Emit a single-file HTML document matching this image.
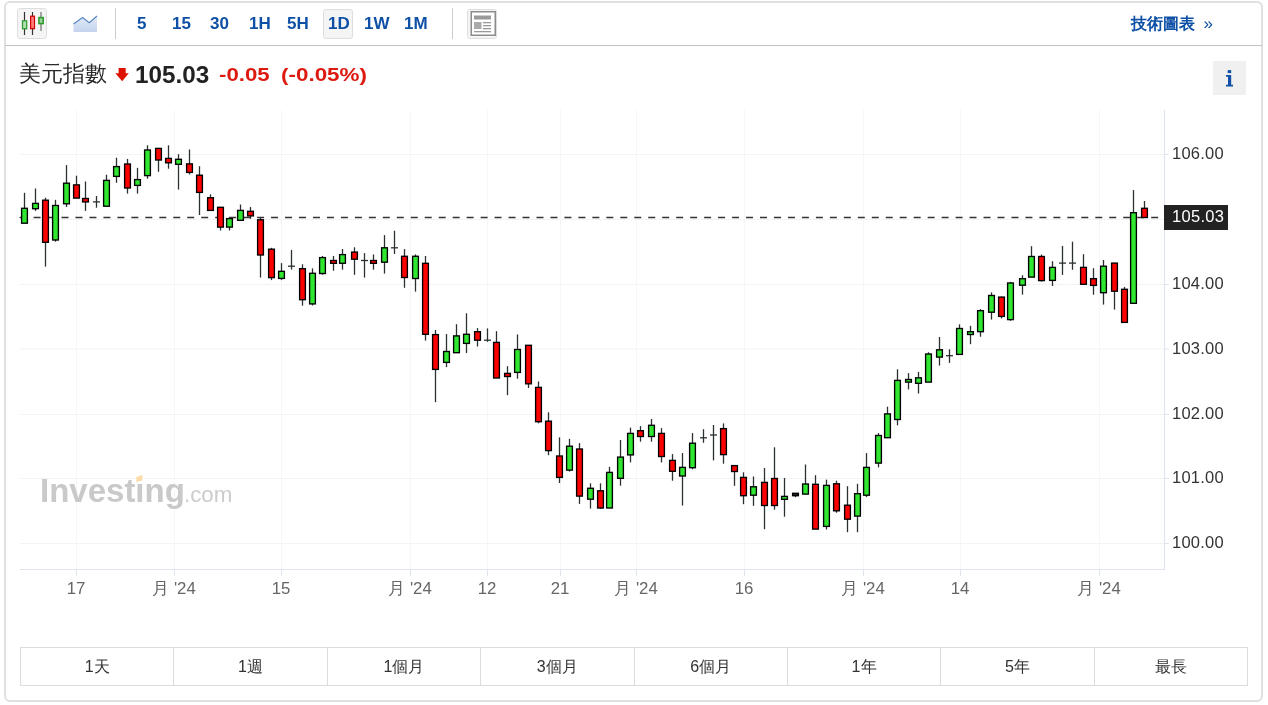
<!DOCTYPE html>
<html><head><meta charset="utf-8">
<style>
html,body{margin:0;padding:0;background:#fff;width:1268px;height:705px;overflow:hidden;}
body{position:relative;font-family:"Liberation Sans",sans-serif;}
.aa{will-change:transform;}
.card{position:absolute;left:4px;top:1px;width:1259px;height:701px;box-sizing:border-box;border:2px solid #e0e0e0;border-radius:6px;}
.tbline{position:absolute;left:5px;top:44.5px;width:1257px;height:1.5px;background:#c2c2c2;}
.btn{position:absolute;box-sizing:border-box;border:1.5px solid #dedede;background:#f5f5f5;border-radius:3px;}
.sep{position:absolute;top:8px;width:1.5px;height:31px;background:#cccccc;}
.tf{position:absolute;top:14px;height:20px;line-height:20px;font-size:17px;font-weight:bold;color:#0d50a6;white-space:nowrap;}
.chart{position:absolute;left:0;top:0;}
.ylab{position:absolute;left:1172px;height:19px;line-height:19px;font-size:16.5px;letter-spacing:0.25px;color:#333;white-space:nowrap;}
.xlab{position:absolute;top:579px;width:80px;text-align:center;height:19px;line-height:19px;font-size:16.8px;color:#666;white-space:nowrap;}
.ranges{position:absolute;left:20px;top:647px;width:1228px;height:39px;box-sizing:border-box;border:1.5px solid #dcdcdc;display:flex;}
.rc{flex:1;border-left:1.5px solid #dcdcdc;text-align:center;line-height:37.5px;font-size:16px;color:#333;}
.rc:first-child{border-left:none;}
</style></head><body>
<div class="aa" style="position:absolute;left:0;top:0;width:1268px;height:705px;">
<div class="card"></div>
<div class="tbline"></div>
<div class="btn" style="left:17px;top:8px;width:30px;height:31px;"></div>
<svg style="position:absolute;left:0;top:0" width="120" height="45">
 <line x1="24.5" y1="12" x2="24.5" y2="35" stroke="#333" stroke-width="1.2"/>
 <rect x="22.5" y="20.8" width="4.2" height="8" fill="#b0deb0" stroke="#2a9a2a" stroke-width="1.2"/>
 <line x1="32.5" y1="12" x2="32.5" y2="35" stroke="#333" stroke-width="1.2"/>
 <rect x="30.6" y="16.2" width="3.9" height="12.5" fill="#ff7f7f" stroke="#cc0000" stroke-width="1.2"/>
 <line x1="41" y1="12" x2="41" y2="31" stroke="#777" stroke-width="1.3"/>
 <rect x="38.9" y="17.6" width="4.3" height="6" fill="#9ad49a" stroke="#2a9a2a" stroke-width="1.5"/>
 <defs><linearGradient id="ag" x1="0" y1="0" x2="0" y2="1"><stop offset="0" stop-color="#e3ebf8"/><stop offset="1" stop-color="#c4d3ec"/></linearGradient></defs>
 <path d="M73.5 24 L82.6 17.5 L89.2 22.7 L97 16 L97 32 L73.5 32 Z" fill="url(#ag)"/>
 <path d="M73.5 24 L82.6 17.5 L89.2 22.7 L97 16" fill="none" stroke="#5b86c4" stroke-width="1.2"/>
</svg>
<div class="sep" style="left:114.5px"></div>
<div class="tf" style="left:137px">5</div>
<div class="tf" style="left:172px">15</div>
<div class="tf" style="left:210px">30</div>
<div class="tf" style="left:249px">1H</div>
<div class="tf" style="left:287px">5H</div>
<div class="btn" style="left:323px;top:9px;width:30px;height:30px;"></div>
<div class="tf" style="left:328px">1D</div>
<div class="tf" style="left:364px">1W</div>
<div class="tf" style="left:404px">1M</div>
<div class="sep" style="left:451.5px"></div>
<div class="btn" style="left:467px;top:9px;width:30px;height:30px;"></div>
<svg style="position:absolute;left:467px;top:9px" width="30" height="30">
 <rect x="4.25" y="2.75" width="24" height="23.5" fill="#fff" stroke="#8c8c8c" stroke-width="1.5"/>
 <rect x="7" y="6.5" width="17" height="4" fill="#999"/>
 <rect x="7" y="13" width="7.5" height="7" fill="#aaa"/>
 <rect x="16" y="13" width="8" height="1.3" fill="#999"/>
 <rect x="16" y="16" width="8" height="1.3" fill="#999"/>
 <rect x="16" y="19" width="8" height="1.3" fill="#999"/>
 <rect x="7" y="22" width="17" height="1.3" fill="#999"/>
</svg>
<div style="position:absolute;left:1130.5px;top:13px;height:22px;line-height:22px;font-size:16px;font-weight:bold;color:#0d50a6;white-space:nowrap;">技術圖表</div>
<div style="position:absolute;left:1203.5px;top:12.5px;height:22px;line-height:22px;font-size:17px;color:#0d50a6;white-space:nowrap;">»</div>

<div style="position:absolute;left:19px;top:60px;height:28px;line-height:28px;font-size:22px;color:#2a2a2a;white-space:nowrap;">美元指數</div>
<svg style="position:absolute;left:110px;top:62px" width="25" height="25"><path d="M8.6 6 H15.7 V11.3 H18.8 L12.15 19.3 L5.4 11.3 H8.6 Z" fill="#dd1100"/></svg>
<div style="position:absolute;left:135px;top:61px;height:28px;line-height:28px;font-size:23.2px;font-weight:bold;color:#222;white-space:nowrap;transform:scaleX(1.046);transform-origin:0 0;">105.03</div>
<div style="position:absolute;left:219px;top:61px;height:28px;line-height:28px;font-size:19px;font-weight:bold;color:#dd1a10;white-space:nowrap;transform:scaleX(1.17);transform-origin:0 0;">-0.05</div>
<div style="position:absolute;left:281px;top:61px;height:28px;line-height:28px;font-size:19px;font-weight:bold;color:#dd1a10;white-space:nowrap;transform:scaleX(1.18);transform-origin:0 0;">(-0.05%)</div>
<div style="position:absolute;left:1213px;top:61px;width:33px;height:34px;background:#f0f0f0;"></div>
<svg style="position:absolute;left:1213px;top:61px" width="33" height="34"><g transform="translate(-1213,-61)" fill="#0f4fa6"><rect x="1227.7" y="70.1" width="3.5" height="3"/><path d="M1226 74.9 H1231.2 V84.7 H1233 V86.4 H1226 V84.7 H1228 V76.8 H1226 Z"/></g></svg>

<svg class="chart" width="1268" height="705" viewBox="0 0 1268 705">
<line x1="20" y1="154.5" x2="1164" y2="154.5" stroke="#f3f3f3" stroke-width="1"/>
<line x1="1164" y1="154.5" x2="1169" y2="154.5" stroke="#dfe4ee" stroke-width="1"/>
<line x1="20" y1="219.5" x2="1164" y2="219.5" stroke="#f3f3f3" stroke-width="1"/>
<line x1="1164" y1="219.5" x2="1169" y2="219.5" stroke="#dfe4ee" stroke-width="1"/>
<line x1="20" y1="284.5" x2="1164" y2="284.5" stroke="#f3f3f3" stroke-width="1"/>
<line x1="1164" y1="284.5" x2="1169" y2="284.5" stroke="#dfe4ee" stroke-width="1"/>
<line x1="20" y1="349" x2="1164" y2="349" stroke="#f3f3f3" stroke-width="1"/>
<line x1="1164" y1="349" x2="1169" y2="349" stroke="#dfe4ee" stroke-width="1"/>
<line x1="20" y1="414.5" x2="1164" y2="414.5" stroke="#f3f3f3" stroke-width="1"/>
<line x1="1164" y1="414.5" x2="1169" y2="414.5" stroke="#dfe4ee" stroke-width="1"/>
<line x1="20" y1="478.5" x2="1164" y2="478.5" stroke="#f3f3f3" stroke-width="1"/>
<line x1="1164" y1="478.5" x2="1169" y2="478.5" stroke="#dfe4ee" stroke-width="1"/>
<line x1="20" y1="543.5" x2="1164" y2="543.5" stroke="#f3f3f3" stroke-width="1"/>
<line x1="1164" y1="543.5" x2="1169" y2="543.5" stroke="#dfe4ee" stroke-width="1"/>
<line x1="76.5" y1="110" x2="76.5" y2="569" stroke="#f6f6f6" stroke-width="1"/>
<line x1="76.5" y1="569" x2="76.5" y2="576" stroke="#dfe4ee" stroke-width="1"/>
<line x1="174.5" y1="110" x2="174.5" y2="569" stroke="#f6f6f6" stroke-width="1"/>
<line x1="174.5" y1="569" x2="174.5" y2="576" stroke="#dfe4ee" stroke-width="1"/>
<line x1="281.5" y1="110" x2="281.5" y2="569" stroke="#f6f6f6" stroke-width="1"/>
<line x1="281.5" y1="569" x2="281.5" y2="576" stroke="#dfe4ee" stroke-width="1"/>
<line x1="410.5" y1="110" x2="410.5" y2="569" stroke="#f6f6f6" stroke-width="1"/>
<line x1="410.5" y1="569" x2="410.5" y2="576" stroke="#dfe4ee" stroke-width="1"/>
<line x1="487.5" y1="110" x2="487.5" y2="569" stroke="#f6f6f6" stroke-width="1"/>
<line x1="487.5" y1="569" x2="487.5" y2="576" stroke="#dfe4ee" stroke-width="1"/>
<line x1="560.5" y1="110" x2="560.5" y2="569" stroke="#f6f6f6" stroke-width="1"/>
<line x1="560.5" y1="569" x2="560.5" y2="576" stroke="#dfe4ee" stroke-width="1"/>
<line x1="636.5" y1="110" x2="636.5" y2="569" stroke="#f6f6f6" stroke-width="1"/>
<line x1="636.5" y1="569" x2="636.5" y2="576" stroke="#dfe4ee" stroke-width="1"/>
<line x1="744.5" y1="110" x2="744.5" y2="569" stroke="#f6f6f6" stroke-width="1"/>
<line x1="744.5" y1="569" x2="744.5" y2="576" stroke="#dfe4ee" stroke-width="1"/>
<line x1="863.5" y1="110" x2="863.5" y2="569" stroke="#f6f6f6" stroke-width="1"/>
<line x1="863.5" y1="569" x2="863.5" y2="576" stroke="#dfe4ee" stroke-width="1"/>
<line x1="960.5" y1="110" x2="960.5" y2="569" stroke="#f6f6f6" stroke-width="1"/>
<line x1="960.5" y1="569" x2="960.5" y2="576" stroke="#dfe4ee" stroke-width="1"/>
<line x1="1099.5" y1="110" x2="1099.5" y2="569" stroke="#f6f6f6" stroke-width="1"/>
<line x1="1099.5" y1="569" x2="1099.5" y2="576" stroke="#dfe4ee" stroke-width="1"/>
<line x1="20" y1="569.5" x2="1165" y2="569.5" stroke="#dfe4ee" stroke-width="1.2"/>
<line x1="1164.5" y1="110" x2="1164.5" y2="570" stroke="#dfe4ee" stroke-width="1.2"/>
<text x="40" y="502" font-family="Liberation Sans" font-weight="bold" font-size="33" fill="#c9c9c9">Investing</text>
<rect x="135.5" y="476" width="8" height="6" fill="#fff"/>
<polygon points="136.3,477 142.4,474.8 142.4,480.6 136.3,482" fill="#fddcaa"/>
<text x="184" y="502" font-family="Liberation Sans" font-size="22.3" fill="#cccccc">.com</text>
<line x1="19.6" y1="217.5" x2="1159" y2="217.5" stroke="#333" stroke-width="1.5" stroke-dasharray="6.985,6.985"/>
<line x1="24.5" y1="192.8" x2="24.5" y2="223.2" stroke="#2b3033" stroke-width="1.3"/>
<rect x="21.6" y="208.3" width="5.8" height="14.9" fill="#30e630" stroke="#000" stroke-width="1.35"/>
<line x1="35.5" y1="188.5" x2="35.5" y2="210.9" stroke="#2b3033" stroke-width="1.3"/>
<rect x="32.6" y="203.4" width="5.8" height="5.3" fill="#30e630" stroke="#000" stroke-width="1.35"/>
<line x1="45.5" y1="197.7" x2="45.5" y2="266.6" stroke="#2b3033" stroke-width="1.3"/>
<rect x="42.6" y="200.2" width="5.8" height="42.1" fill="#ff0000" stroke="#000" stroke-width="1.35"/>
<line x1="55.5" y1="199.8" x2="55.5" y2="241.7" stroke="#2b3033" stroke-width="1.3"/>
<rect x="52.6" y="205.5" width="5.8" height="34.5" fill="#30e630" stroke="#000" stroke-width="1.35"/>
<line x1="66.5" y1="165.1" x2="66.5" y2="207.0" stroke="#2b3033" stroke-width="1.3"/>
<rect x="63.6" y="183.2" width="5.8" height="20.6" fill="#30e630" stroke="#000" stroke-width="1.35"/>
<line x1="76.5" y1="175.7" x2="76.5" y2="198.1" stroke="#2b3033" stroke-width="1.3"/>
<rect x="73.6" y="184.9" width="5.8" height="13.2" fill="#ff0000" stroke="#000" stroke-width="1.35"/>
<line x1="85.5" y1="181.5" x2="85.5" y2="210.9" stroke="#2b3033" stroke-width="1.3"/>
<rect x="82.6" y="198.5" width="5.8" height="3.4" fill="#ff0000" stroke="#000" stroke-width="1.35"/>
<line x1="96.5" y1="196.0" x2="96.5" y2="207.7" stroke="#2b3033" stroke-width="1.3"/>
<line x1="93.0" y1="201.9" x2="100.0" y2="201.9" stroke="#2b3033" stroke-width="1.3"/>
<line x1="106.5" y1="174.7" x2="106.5" y2="206.2" stroke="#2b3033" stroke-width="1.3"/>
<rect x="103.6" y="180.4" width="5.8" height="25.8" fill="#30e630" stroke="#000" stroke-width="1.35"/>
<line x1="116.5" y1="157.7" x2="116.5" y2="182.8" stroke="#2b3033" stroke-width="1.3"/>
<rect x="113.6" y="166.6" width="5.8" height="9.8" fill="#30e630" stroke="#000" stroke-width="1.35"/>
<line x1="127.5" y1="158.9" x2="127.5" y2="193.6" stroke="#2b3033" stroke-width="1.3"/>
<rect x="124.6" y="164.0" width="5.8" height="24.0" fill="#ff0000" stroke="#000" stroke-width="1.35"/>
<line x1="137.5" y1="167.8" x2="137.5" y2="193.6" stroke="#2b3033" stroke-width="1.3"/>
<rect x="134.6" y="179.6" width="5.8" height="5.8" fill="#30e630" stroke="#000" stroke-width="1.35"/>
<line x1="147.5" y1="145.3" x2="147.5" y2="178.7" stroke="#2b3033" stroke-width="1.3"/>
<rect x="144.6" y="150.0" width="5.8" height="25.6" fill="#30e630" stroke="#000" stroke-width="1.35"/>
<line x1="158.5" y1="148.4" x2="158.5" y2="171.8" stroke="#2b3033" stroke-width="1.3"/>
<rect x="155.6" y="148.4" width="5.8" height="11.6" fill="#ff0000" stroke="#000" stroke-width="1.35"/>
<line x1="168.5" y1="145.3" x2="168.5" y2="168.7" stroke="#2b3033" stroke-width="1.3"/>
<rect x="165.6" y="158.4" width="5.8" height="4.4" fill="#ff0000" stroke="#000" stroke-width="1.35"/>
<line x1="178.5" y1="154.2" x2="178.5" y2="189.6" stroke="#2b3033" stroke-width="1.3"/>
<rect x="175.6" y="159.3" width="5.8" height="5.0" fill="#30e630" stroke="#000" stroke-width="1.35"/>
<line x1="189.5" y1="149.5" x2="189.5" y2="174.5" stroke="#2b3033" stroke-width="1.3"/>
<rect x="186.6" y="163.9" width="5.8" height="8.5" fill="#ff0000" stroke="#000" stroke-width="1.35"/>
<line x1="199.5" y1="166.2" x2="199.5" y2="215.0" stroke="#2b3033" stroke-width="1.3"/>
<rect x="196.6" y="175.2" width="5.8" height="17.2" fill="#ff0000" stroke="#000" stroke-width="1.35"/>
<line x1="210.5" y1="194.3" x2="210.5" y2="210.4" stroke="#2b3033" stroke-width="1.3"/>
<rect x="207.6" y="197.7" width="5.8" height="12.7" fill="#ff0000" stroke="#000" stroke-width="1.35"/>
<line x1="220.5" y1="207.3" x2="220.5" y2="230.5" stroke="#2b3033" stroke-width="1.3"/>
<rect x="217.6" y="207.3" width="5.8" height="19.8" fill="#ff0000" stroke="#000" stroke-width="1.35"/>
<line x1="229.5" y1="217.2" x2="229.5" y2="230.5" stroke="#2b3033" stroke-width="1.3"/>
<rect x="226.6" y="218.6" width="5.8" height="8.5" fill="#30e630" stroke="#000" stroke-width="1.35"/>
<line x1="240.5" y1="204.5" x2="240.5" y2="220.3" stroke="#2b3033" stroke-width="1.3"/>
<rect x="237.6" y="210.4" width="5.8" height="9.9" fill="#30e630" stroke="#000" stroke-width="1.35"/>
<line x1="250.5" y1="207.0" x2="250.5" y2="218.9" stroke="#2b3033" stroke-width="1.3"/>
<rect x="247.6" y="211.3" width="5.8" height="4.6" fill="#ff0000" stroke="#000" stroke-width="1.35"/>
<line x1="260.5" y1="217.6" x2="260.5" y2="277.6" stroke="#2b3033" stroke-width="1.3"/>
<rect x="257.6" y="219.8" width="5.8" height="35.2" fill="#ff0000" stroke="#000" stroke-width="1.35"/>
<line x1="271.5" y1="247.8" x2="271.5" y2="280.1" stroke="#2b3033" stroke-width="1.3"/>
<rect x="268.6" y="249.2" width="5.8" height="28.4" fill="#ff0000" stroke="#000" stroke-width="1.35"/>
<line x1="281.5" y1="263.1" x2="281.5" y2="280.1" stroke="#2b3033" stroke-width="1.3"/>
<rect x="278.6" y="271.3" width="5.8" height="7.1" fill="#30e630" stroke="#000" stroke-width="1.35"/>
<line x1="291.5" y1="249.9" x2="291.5" y2="269.6" stroke="#2b3033" stroke-width="1.3"/>
<line x1="288.0" y1="266.2" x2="295.0" y2="266.2" stroke="#2b3033" stroke-width="1.3"/>
<line x1="302.5" y1="264.3" x2="302.5" y2="305.7" stroke="#2b3033" stroke-width="1.3"/>
<rect x="299.6" y="268.7" width="5.8" height="31.0" fill="#ff0000" stroke="#000" stroke-width="1.35"/>
<line x1="312.5" y1="268.4" x2="312.5" y2="305.5" stroke="#2b3033" stroke-width="1.3"/>
<rect x="309.6" y="273.3" width="5.8" height="30.6" fill="#30e630" stroke="#000" stroke-width="1.35"/>
<line x1="322.5" y1="255.9" x2="322.5" y2="274.8" stroke="#2b3033" stroke-width="1.3"/>
<rect x="319.6" y="257.6" width="5.8" height="15.9" fill="#30e630" stroke="#000" stroke-width="1.35"/>
<line x1="333.5" y1="255.9" x2="333.5" y2="270.7" stroke="#2b3033" stroke-width="1.3"/>
<rect x="330.6" y="260.5" width="5.8" height="2.8" fill="#ff0000" stroke="#000" stroke-width="1.35"/>
<line x1="342.5" y1="249.0" x2="342.5" y2="269.7" stroke="#2b3033" stroke-width="1.3"/>
<rect x="339.6" y="254.6" width="5.8" height="8.7" fill="#30e630" stroke="#000" stroke-width="1.35"/>
<line x1="354.5" y1="247.3" x2="354.5" y2="274.8" stroke="#2b3033" stroke-width="1.3"/>
<rect x="351.6" y="252.1" width="5.8" height="7.1" fill="#ff0000" stroke="#000" stroke-width="1.35"/>
<line x1="364.5" y1="253.1" x2="364.5" y2="277.6" stroke="#2b3033" stroke-width="1.3"/>
<line x1="361.0" y1="260.5" x2="368.0" y2="260.5" stroke="#2b3033" stroke-width="1.3"/>
<line x1="373.5" y1="254.4" x2="373.5" y2="269.7" stroke="#2b3033" stroke-width="1.3"/>
<rect x="370.6" y="260.5" width="5.8" height="2.8" fill="#ff0000" stroke="#000" stroke-width="1.35"/>
<line x1="384.5" y1="235.1" x2="384.5" y2="273.6" stroke="#2b3033" stroke-width="1.3"/>
<rect x="381.6" y="247.8" width="5.8" height="14.4" fill="#30e630" stroke="#000" stroke-width="1.35"/>
<line x1="394.5" y1="230.7" x2="394.5" y2="254.0" stroke="#2b3033" stroke-width="1.3"/>
<line x1="391.0" y1="247.8" x2="398.0" y2="247.8" stroke="#2b3033" stroke-width="1.3"/>
<line x1="404.5" y1="249.1" x2="404.5" y2="287.8" stroke="#2b3033" stroke-width="1.3"/>
<rect x="401.6" y="256.3" width="5.8" height="21.2" fill="#ff0000" stroke="#000" stroke-width="1.35"/>
<line x1="415.5" y1="254.4" x2="415.5" y2="291.6" stroke="#2b3033" stroke-width="1.3"/>
<rect x="412.6" y="256.3" width="5.8" height="22.2" fill="#30e630" stroke="#000" stroke-width="1.35"/>
<line x1="425.5" y1="256.0" x2="425.5" y2="340.6" stroke="#2b3033" stroke-width="1.3"/>
<rect x="422.6" y="263.3" width="5.8" height="71.0" fill="#ff0000" stroke="#000" stroke-width="1.35"/>
<line x1="435.5" y1="330.0" x2="435.5" y2="402.2" stroke="#2b3033" stroke-width="1.3"/>
<rect x="432.6" y="334.6" width="5.8" height="34.8" fill="#ff0000" stroke="#000" stroke-width="1.35"/>
<line x1="446.5" y1="334.0" x2="446.5" y2="367.1" stroke="#2b3033" stroke-width="1.3"/>
<rect x="443.6" y="351.5" width="5.8" height="10.9" fill="#30e630" stroke="#000" stroke-width="1.35"/>
<line x1="456.5" y1="324.2" x2="456.5" y2="352.7" stroke="#2b3033" stroke-width="1.3"/>
<rect x="453.6" y="335.9" width="5.8" height="16.8" fill="#30e630" stroke="#000" stroke-width="1.35"/>
<line x1="466.5" y1="313.3" x2="466.5" y2="353.0" stroke="#2b3033" stroke-width="1.3"/>
<rect x="463.6" y="334.3" width="5.8" height="9.1" fill="#30e630" stroke="#000" stroke-width="1.35"/>
<line x1="477.5" y1="328.1" x2="477.5" y2="346.5" stroke="#2b3033" stroke-width="1.3"/>
<rect x="474.6" y="331.7" width="5.8" height="8.5" fill="#ff0000" stroke="#000" stroke-width="1.35"/>
<line x1="487.5" y1="328.4" x2="487.5" y2="341.8" stroke="#2b3033" stroke-width="1.3"/>
<line x1="484.0" y1="340.2" x2="491.0" y2="340.2" stroke="#2b3033" stroke-width="1.3"/>
<line x1="496.5" y1="331.2" x2="496.5" y2="378.0" stroke="#2b3033" stroke-width="1.3"/>
<rect x="493.6" y="342.4" width="5.8" height="35.6" fill="#ff0000" stroke="#000" stroke-width="1.35"/>
<line x1="507.5" y1="366.2" x2="507.5" y2="395.2" stroke="#2b3033" stroke-width="1.3"/>
<rect x="504.6" y="373.4" width="5.8" height="3.1" fill="#ff0000" stroke="#000" stroke-width="1.35"/>
<line x1="517.5" y1="334.4" x2="517.5" y2="378.7" stroke="#2b3033" stroke-width="1.3"/>
<rect x="514.6" y="349.5" width="5.8" height="22.9" fill="#30e630" stroke="#000" stroke-width="1.35"/>
<line x1="528.5" y1="345.3" x2="528.5" y2="388.0" stroke="#2b3033" stroke-width="1.3"/>
<rect x="525.6" y="345.3" width="5.8" height="38.5" fill="#ff0000" stroke="#000" stroke-width="1.35"/>
<line x1="538.5" y1="381.5" x2="538.5" y2="423.3" stroke="#2b3033" stroke-width="1.3"/>
<rect x="535.6" y="387.4" width="5.8" height="34.3" fill="#ff0000" stroke="#000" stroke-width="1.35"/>
<line x1="548.5" y1="412.3" x2="548.5" y2="455.2" stroke="#2b3033" stroke-width="1.3"/>
<rect x="545.6" y="421.2" width="5.8" height="29.4" fill="#ff0000" stroke="#000" stroke-width="1.35"/>
<line x1="559.5" y1="437.3" x2="559.5" y2="483.0" stroke="#2b3033" stroke-width="1.3"/>
<rect x="556.6" y="456.0" width="5.8" height="21.4" fill="#ff0000" stroke="#000" stroke-width="1.35"/>
<line x1="569.5" y1="438.9" x2="569.5" y2="471.6" stroke="#2b3033" stroke-width="1.3"/>
<rect x="566.6" y="446.2" width="5.8" height="23.9" fill="#30e630" stroke="#000" stroke-width="1.35"/>
<line x1="579.5" y1="443.1" x2="579.5" y2="503.9" stroke="#2b3033" stroke-width="1.3"/>
<rect x="576.6" y="449.0" width="5.8" height="47.1" fill="#ff0000" stroke="#000" stroke-width="1.35"/>
<line x1="590.5" y1="483.3" x2="590.5" y2="508.6" stroke="#2b3033" stroke-width="1.3"/>
<rect x="587.6" y="488.3" width="5.8" height="10.9" fill="#30e630" stroke="#000" stroke-width="1.35"/>
<line x1="600.5" y1="483.3" x2="600.5" y2="509.0" stroke="#2b3033" stroke-width="1.3"/>
<rect x="597.6" y="490.8" width="5.8" height="17.2" fill="#ff0000" stroke="#000" stroke-width="1.35"/>
<line x1="609.5" y1="466.9" x2="609.5" y2="508.0" stroke="#2b3033" stroke-width="1.3"/>
<rect x="606.6" y="472.4" width="5.8" height="35.6" fill="#30e630" stroke="#000" stroke-width="1.35"/>
<line x1="620.5" y1="440.0" x2="620.5" y2="485.7" stroke="#2b3033" stroke-width="1.3"/>
<rect x="617.6" y="457.1" width="5.8" height="21.2" fill="#30e630" stroke="#000" stroke-width="1.35"/>
<line x1="630.5" y1="427.6" x2="630.5" y2="462.4" stroke="#2b3033" stroke-width="1.3"/>
<rect x="627.6" y="433.4" width="5.8" height="21.5" fill="#30e630" stroke="#000" stroke-width="1.35"/>
<line x1="640.5" y1="426.1" x2="640.5" y2="441.7" stroke="#2b3033" stroke-width="1.3"/>
<rect x="637.6" y="430.7" width="5.8" height="5.8" fill="#ff0000" stroke="#000" stroke-width="1.35"/>
<line x1="651.5" y1="419.0" x2="651.5" y2="441.7" stroke="#2b3033" stroke-width="1.3"/>
<rect x="648.6" y="425.3" width="5.8" height="11.2" fill="#30e630" stroke="#000" stroke-width="1.35"/>
<line x1="661.5" y1="428.1" x2="661.5" y2="462.4" stroke="#2b3033" stroke-width="1.3"/>
<rect x="658.6" y="433.4" width="5.8" height="23.1" fill="#ff0000" stroke="#000" stroke-width="1.35"/>
<line x1="672.5" y1="454.1" x2="672.5" y2="480.7" stroke="#2b3033" stroke-width="1.3"/>
<rect x="669.6" y="460.4" width="5.8" height="10.9" fill="#ff0000" stroke="#000" stroke-width="1.35"/>
<line x1="682.5" y1="453.0" x2="682.5" y2="505.6" stroke="#2b3033" stroke-width="1.3"/>
<rect x="679.6" y="467.4" width="5.8" height="8.6" fill="#30e630" stroke="#000" stroke-width="1.35"/>
<line x1="692.5" y1="433.1" x2="692.5" y2="469.3" stroke="#2b3033" stroke-width="1.3"/>
<rect x="689.6" y="443.2" width="5.8" height="24.5" fill="#30e630" stroke="#000" stroke-width="1.35"/>
<line x1="703.5" y1="429.2" x2="703.5" y2="442.8" stroke="#2b3033" stroke-width="1.3"/>
<line x1="700.0" y1="437.8" x2="707.0" y2="437.8" stroke="#2b3033" stroke-width="1.3"/>
<line x1="713.5" y1="425.0" x2="713.5" y2="460.4" stroke="#2b3033" stroke-width="1.3"/>
<line x1="710.0" y1="435.0" x2="717.0" y2="435.0" stroke="#2b3033" stroke-width="1.3"/>
<line x1="723.5" y1="423.4" x2="723.5" y2="463.7" stroke="#2b3033" stroke-width="1.3"/>
<rect x="720.6" y="428.6" width="5.8" height="26.0" fill="#ff0000" stroke="#000" stroke-width="1.35"/>
<line x1="734.5" y1="465.6" x2="734.5" y2="485.8" stroke="#2b3033" stroke-width="1.3"/>
<rect x="731.6" y="465.6" width="5.8" height="5.9" fill="#ff0000" stroke="#000" stroke-width="1.35"/>
<line x1="743.5" y1="472.3" x2="743.5" y2="504.2" stroke="#2b3033" stroke-width="1.3"/>
<rect x="740.6" y="477.4" width="5.8" height="18.3" fill="#ff0000" stroke="#000" stroke-width="1.35"/>
<line x1="753.5" y1="476.5" x2="753.5" y2="505.8" stroke="#2b3033" stroke-width="1.3"/>
<rect x="750.6" y="486.8" width="5.8" height="8.4" fill="#30e630" stroke="#000" stroke-width="1.35"/>
<line x1="764.5" y1="468.0" x2="764.5" y2="529.2" stroke="#2b3033" stroke-width="1.3"/>
<rect x="761.6" y="482.4" width="5.8" height="23.1" fill="#ff0000" stroke="#000" stroke-width="1.35"/>
<line x1="774.5" y1="447.3" x2="774.5" y2="509.7" stroke="#2b3033" stroke-width="1.3"/>
<rect x="771.6" y="478.5" width="5.8" height="27.0" fill="#ff0000" stroke="#000" stroke-width="1.35"/>
<line x1="784.5" y1="478.0" x2="784.5" y2="516.7" stroke="#2b3033" stroke-width="1.3"/>
<rect x="781.6" y="496.4" width="5.8" height="2.9" fill="#30e630" stroke="#000" stroke-width="1.35"/>
<line x1="795.5" y1="493.3" x2="795.5" y2="497.2" stroke="#2b3033" stroke-width="1.3"/>
<rect x="792.6" y="493.3" width="5.8" height="2.4" fill="#222" stroke="#000" stroke-width="1.35"/>
<line x1="805.5" y1="464.5" x2="805.5" y2="494.1" stroke="#2b3033" stroke-width="1.3"/>
<rect x="802.6" y="484.0" width="5.8" height="10.1" fill="#30e630" stroke="#000" stroke-width="1.35"/>
<line x1="815.5" y1="475.2" x2="815.5" y2="529.1" stroke="#2b3033" stroke-width="1.3"/>
<rect x="812.6" y="484.3" width="5.8" height="44.8" fill="#ff0000" stroke="#000" stroke-width="1.35"/>
<line x1="826.5" y1="479.6" x2="826.5" y2="529.5" stroke="#2b3033" stroke-width="1.3"/>
<rect x="823.6" y="485.4" width="5.8" height="41.0" fill="#30e630" stroke="#000" stroke-width="1.35"/>
<line x1="836.5" y1="480.7" x2="836.5" y2="512.7" stroke="#2b3033" stroke-width="1.3"/>
<rect x="833.6" y="483.8" width="5.8" height="27.0" fill="#ff0000" stroke="#000" stroke-width="1.35"/>
<line x1="847.5" y1="486.2" x2="847.5" y2="532.2" stroke="#2b3033" stroke-width="1.3"/>
<rect x="844.6" y="505.2" width="5.8" height="14.0" fill="#ff0000" stroke="#000" stroke-width="1.35"/>
<line x1="857.5" y1="483.8" x2="857.5" y2="532.2" stroke="#2b3033" stroke-width="1.3"/>
<rect x="854.6" y="493.7" width="5.8" height="22.4" fill="#30e630" stroke="#000" stroke-width="1.35"/>
<line x1="866.5" y1="453.1" x2="866.5" y2="497.1" stroke="#2b3033" stroke-width="1.3"/>
<rect x="863.6" y="467.4" width="5.8" height="27.8" fill="#30e630" stroke="#000" stroke-width="1.35"/>
<line x1="878.5" y1="433.1" x2="878.5" y2="467.4" stroke="#2b3033" stroke-width="1.3"/>
<rect x="875.6" y="435.5" width="5.8" height="27.6" fill="#30e630" stroke="#000" stroke-width="1.35"/>
<line x1="887.5" y1="406.7" x2="887.5" y2="438.0" stroke="#2b3033" stroke-width="1.3"/>
<rect x="884.6" y="413.9" width="5.8" height="23.8" fill="#30e630" stroke="#000" stroke-width="1.35"/>
<line x1="897.5" y1="369.3" x2="897.5" y2="425.4" stroke="#2b3033" stroke-width="1.3"/>
<rect x="894.6" y="380.4" width="5.8" height="39.1" fill="#30e630" stroke="#000" stroke-width="1.35"/>
<line x1="908.5" y1="373.1" x2="908.5" y2="389.4" stroke="#2b3033" stroke-width="1.3"/>
<rect x="905.6" y="379.5" width="5.8" height="2.6" fill="#30e630" stroke="#000" stroke-width="1.35"/>
<line x1="918.5" y1="371.9" x2="918.5" y2="393.5" stroke="#2b3033" stroke-width="1.3"/>
<rect x="915.6" y="377.8" width="5.8" height="5.5" fill="#30e630" stroke="#000" stroke-width="1.35"/>
<line x1="928.5" y1="352.3" x2="928.5" y2="382.1" stroke="#2b3033" stroke-width="1.3"/>
<rect x="925.6" y="354.0" width="5.8" height="28.1" fill="#30e630" stroke="#000" stroke-width="1.35"/>
<line x1="939.5" y1="337.0" x2="939.5" y2="365.6" stroke="#2b3033" stroke-width="1.3"/>
<rect x="936.6" y="349.8" width="5.8" height="7.3" fill="#30e630" stroke="#000" stroke-width="1.35"/>
<line x1="949.5" y1="349.3" x2="949.5" y2="362.9" stroke="#2b3033" stroke-width="1.3"/>
<line x1="946.0" y1="355.7" x2="953.0" y2="355.7" stroke="#2b3033" stroke-width="1.3"/>
<line x1="959.5" y1="324.3" x2="959.5" y2="354.4" stroke="#2b3033" stroke-width="1.3"/>
<rect x="956.6" y="328.5" width="5.8" height="25.9" fill="#30e630" stroke="#000" stroke-width="1.35"/>
<line x1="970.5" y1="325.8" x2="970.5" y2="344.2" stroke="#2b3033" stroke-width="1.3"/>
<rect x="967.6" y="331.7" width="5.8" height="2.8" fill="#30e630" stroke="#000" stroke-width="1.35"/>
<line x1="980.5" y1="309.1" x2="980.5" y2="336.7" stroke="#2b3033" stroke-width="1.3"/>
<rect x="977.6" y="310.7" width="5.8" height="21.0" fill="#30e630" stroke="#000" stroke-width="1.35"/>
<line x1="991.5" y1="292.4" x2="991.5" y2="319.6" stroke="#2b3033" stroke-width="1.3"/>
<rect x="988.6" y="295.5" width="5.8" height="16.7" fill="#30e630" stroke="#000" stroke-width="1.35"/>
<line x1="1001.5" y1="296.6" x2="1001.5" y2="318.5" stroke="#2b3033" stroke-width="1.3"/>
<rect x="998.6" y="297.1" width="5.8" height="19.3" fill="#ff0000" stroke="#000" stroke-width="1.35"/>
<line x1="1010.5" y1="281.8" x2="1010.5" y2="320.8" stroke="#2b3033" stroke-width="1.3"/>
<rect x="1007.6" y="283.0" width="5.8" height="36.6" fill="#30e630" stroke="#000" stroke-width="1.35"/>
<line x1="1022.5" y1="275.2" x2="1022.5" y2="294.6" stroke="#2b3033" stroke-width="1.3"/>
<rect x="1019.6" y="278.7" width="5.8" height="6.5" fill="#30e630" stroke="#000" stroke-width="1.35"/>
<line x1="1031.5" y1="246.2" x2="1031.5" y2="277.1" stroke="#2b3033" stroke-width="1.3"/>
<rect x="1028.6" y="256.5" width="5.8" height="20.6" fill="#30e630" stroke="#000" stroke-width="1.35"/>
<line x1="1041.5" y1="254.5" x2="1041.5" y2="281.5" stroke="#2b3033" stroke-width="1.3"/>
<rect x="1038.6" y="256.5" width="5.8" height="24.1" fill="#ff0000" stroke="#000" stroke-width="1.35"/>
<line x1="1052.5" y1="261.2" x2="1052.5" y2="286.0" stroke="#2b3033" stroke-width="1.3"/>
<rect x="1049.6" y="267.4" width="5.8" height="13.0" fill="#30e630" stroke="#000" stroke-width="1.35"/>
<line x1="1062.5" y1="245.9" x2="1062.5" y2="274.9" stroke="#2b3033" stroke-width="1.3"/>
<line x1="1059.0" y1="263.1" x2="1066.0" y2="263.1" stroke="#2b3033" stroke-width="1.3"/>
<line x1="1072.5" y1="241.7" x2="1072.5" y2="269.8" stroke="#2b3033" stroke-width="1.3"/>
<line x1="1069.0" y1="263.1" x2="1076.0" y2="263.1" stroke="#2b3033" stroke-width="1.3"/>
<line x1="1083.5" y1="254.2" x2="1083.5" y2="284.3" stroke="#2b3033" stroke-width="1.3"/>
<rect x="1080.6" y="267.4" width="5.8" height="16.9" fill="#ff0000" stroke="#000" stroke-width="1.35"/>
<line x1="1093.5" y1="268.2" x2="1093.5" y2="294.7" stroke="#2b3033" stroke-width="1.3"/>
<rect x="1090.6" y="278.7" width="5.8" height="6.7" fill="#ff0000" stroke="#000" stroke-width="1.35"/>
<line x1="1103.5" y1="260.0" x2="1103.5" y2="304.6" stroke="#2b3033" stroke-width="1.3"/>
<rect x="1100.6" y="266.2" width="5.8" height="26.5" fill="#30e630" stroke="#000" stroke-width="1.35"/>
<line x1="1114.5" y1="263.1" x2="1114.5" y2="309.6" stroke="#2b3033" stroke-width="1.3"/>
<rect x="1111.6" y="263.1" width="5.8" height="28.1" fill="#ff0000" stroke="#000" stroke-width="1.35"/>
<line x1="1124.5" y1="286.9" x2="1124.5" y2="322.4" stroke="#2b3033" stroke-width="1.3"/>
<rect x="1121.6" y="289.3" width="5.8" height="33.1" fill="#ff0000" stroke="#000" stroke-width="1.35"/>
<line x1="1133.5" y1="190.1" x2="1133.5" y2="303.3" stroke="#2b3033" stroke-width="1.3"/>
<rect x="1130.6" y="212.7" width="5.8" height="90.6" fill="#30e630" stroke="#000" stroke-width="1.35"/>
<line x1="1144.5" y1="201.0" x2="1144.5" y2="217.5" stroke="#2b3033" stroke-width="1.3"/>
<rect x="1141.6" y="208.3" width="5.8" height="9.2" fill="#ff0000" stroke="#000" stroke-width="1.35"/>
<rect x="1164" y="205" width="64" height="25" fill="#222222"/>
</svg>
<div class="ylab" style="top:144.0px">106.00</div><div class="ylab" style="top:274.0px">104.00</div><div class="ylab" style="top:338.5px">103.00</div><div class="ylab" style="top:404.0px">102.00</div><div class="ylab" style="top:468.0px">101.00</div><div class="ylab" style="top:533.0px">100.00</div>
<div style="position:absolute;left:1172px;top:207px;height:19px;line-height:19px;font-size:16.5px;letter-spacing:0.3px;color:#fff;white-space:nowrap;">105.03</div>
<div class="xlab" style="left:36px">17</div><div class="xlab" style="left:134px">月 '24</div><div class="xlab" style="left:241px">15</div><div class="xlab" style="left:370px">月 '24</div><div class="xlab" style="left:447px">12</div><div class="xlab" style="left:520px">21</div><div class="xlab" style="left:596px">月 '24</div><div class="xlab" style="left:704px">16</div><div class="xlab" style="left:823px">月 '24</div><div class="xlab" style="left:920px">14</div><div class="xlab" style="left:1059px">月 '24</div>
<div class="ranges"><div class="rc">1天</div><div class="rc">1週</div><div class="rc">1個月</div><div class="rc">3個月</div><div class="rc">6個月</div><div class="rc">1年</div><div class="rc">5年</div><div class="rc">最長</div></div>
</div>
</body></html>
